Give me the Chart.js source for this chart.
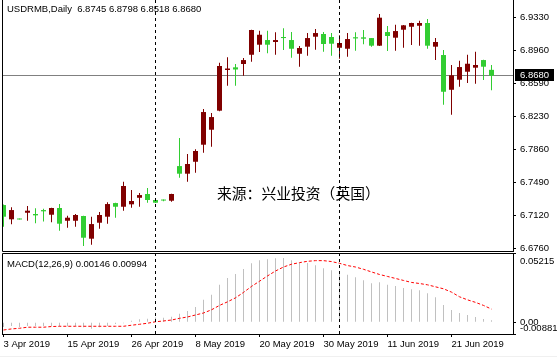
<!DOCTYPE html>
<html><head><meta charset="utf-8">
<script src="https://cdn.jsdelivr.net/npm/chart.js@4.4.1/dist/chart.umd.min.js"></script>
<style>
html,body{margin:0;padding:0;background:#fff;}
#wrap{position:relative;width:557px;height:357px;overflow:hidden;background:#fff;}
canvas{position:absolute;left:0;}
#cMain{top:0;}
#cMacd{top:252px;}
.txt{position:absolute;font-family:"Liberation Sans",Arial,sans-serif;font-size:9.5px;line-height:11px;color:#000;white-space:pre;}
#title{left:7px;top:3px;}
#macdLbl{left:7px;top:258px;}
#wm{position:absolute;left:217px;top:184px;font-family:"Noto Sans CJK SC",sans-serif;font-size:14.8px;line-height:18px;color:#000;white-space:pre;}
#foot{position:absolute;left:0;top:356px;width:557px;height:1px;background:#f0f0f0;}
</style></head><body>
<div id="wrap">
<canvas id="cMain" width="557" height="253"></canvas>
<canvas id="cMacd" width="557" height="105"></canvas>
<div class="txt" id="title"></div>
<div class="txt" id="macdLbl"></div>
<div id="wm"></div>
<div id="foot"></div>
</div>
<script>
// ---------------- data ----------------
const symbolName = 'USDRMB,Daily';
const macdName = 'MACD(12,26,9)';
const watermarkText = '来源：兴业投资（英国）';

const dates = ['3 Apr 2019','4 Apr 2019','5 Apr 2019','8 Apr 2019','9 Apr 2019','10 Apr 2019','11 Apr 2019','12 Apr 2019',
'15 Apr 2019','16 Apr 2019','17 Apr 2019','18 Apr 2019','22 Apr 2019','23 Apr 2019','24 Apr 2019','25 Apr 2019',
'26 Apr 2019','29 Apr 2019','30 Apr 2019','1 May 2019','2 May 2019','3 May 2019','6 May 2019','7 May 2019',
'8 May 2019','9 May 2019','10 May 2019','13 May 2019','14 May 2019','15 May 2019','16 May 2019','17 May 2019',
'20 May 2019','21 May 2019','22 May 2019','23 May 2019','24 May 2019','27 May 2019','28 May 2019','29 May 2019',
'30 May 2019','31 May 2019','3 Jun 2019','4 Jun 2019','5 Jun 2019','6 Jun 2019','7 Jun 2019','10 Jun 2019',
'11 Jun 2019','12 Jun 2019','13 Jun 2019','14 Jun 2019','17 Jun 2019','18 Jun 2019','19 Jun 2019','20 Jun 2019',
'21 Jun 2019','24 Jun 2019','25 Jun 2019','26 Jun 2019','27 Jun 2019','28 Jun 2019'];

const openPx = [6.7239,6.7080,6.7082,6.7153,6.7139,6.7183,6.7131,6.7206,6.7064,6.7064,
6.7117,6.6864,6.7042,6.7109,6.7261,6.7220,6.7247,6.7320,6.7362,6.7295,
6.7293,6.7287,6.7673,6.7588,6.7721,6.7911,6.8078,6.8290,6.8743,6.8773,
6.8810,6.8913,6.9025,6.9077,6.9055,6.9111,6.9077,6.8924,6.9003,6.9114,
6.9144,6.9111,6.8991,6.8980,6.9108,6.9107,6.9099,6.9014,6.9166,6.9103,
6.9192,6.9225,6.9236,6.9267,6.9003,6.8910,6.8523,6.8635,6.8724,6.8769,
6.8854,6.8745];
const highPx = [6.7245,6.7213,6.7082,6.7228,6.7202,6.7198,6.7208,6.7250,6.7120,6.7139,
6.7120,6.7109,6.7161,6.7269,6.7264,6.7499,6.7406,6.7373,6.7428,6.7298,
6.7300,6.7365,6.7985,6.7807,6.7860,6.8309,6.8264,6.8824,6.8884,6.8810,
6.8877,6.9192,6.9181,6.9181,6.9163,6.9207,6.9166,6.9010,6.9155,6.9200,
6.9166,6.9155,6.9130,6.9155,6.9163,6.9189,6.9101,6.9367,6.9233,6.9248,
6.9244,6.9270,6.9292,6.9311,6.9099,6.8966,6.8799,6.8847,6.8913,6.8947,
6.8857,6.8798];
const lowPx = [6.6997,6.7024,6.7078,6.7064,6.7035,6.7057,6.7046,6.6953,6.6986,6.6997,
6.6782,6.6797,6.6975,6.7031,6.7098,6.7176,6.7209,6.7220,6.7265,6.7262,
6.7282,6.7276,6.7543,6.7499,6.7599,6.7822,6.7889,6.8285,6.8568,6.8568,
6.8679,6.8835,6.8943,6.8929,6.8913,6.8966,6.8880,6.8780,6.8902,6.8969,
6.8947,6.8902,6.8869,6.8891,6.8958,6.9029,6.9003,6.9010,6.8955,6.8958,
6.8991,6.9021,6.9014,6.8980,6.8854,6.8356,6.8245,6.8557,6.8598,6.8590,
6.8632,6.8518];
const closePx = [6.7109,6.7183,6.7078,6.7176,6.7124,6.7169,6.7206,6.7031,6.7098,6.7128,
6.6875,6.7027,6.7128,6.7250,6.7220,6.7451,6.7284,6.7350,6.7295,6.7265,
6.7289,6.7362,6.7588,6.7696,6.7841,6.8275,6.8219,6.8788,6.8760,6.8749,
6.8854,6.9189,6.9136,6.9025,6.9077,6.9099,6.8980,6.8988,6.9099,6.9155,
6.9033,6.9036,6.9044,6.9088,6.9095,6.9092,6.9014,6.9326,6.9122,6.9177,
6.9241,6.9267,6.9267,6.9014,6.9055,6.8501,6.8684,6.8776,6.8813,6.8799,
6.8780,6.8680];

const macdMain = [-0.0035,-0.0028,-0.0035,-0.0028,-0.0028,-0.0028,-0.0028,-0.0030,-0.0030,-0.0030,
-0.0037,-0.0048,-0.0037,-0.0028,-0.0013,-0.0007,0.0012,0.0022,0.0027,0.0037,
0.0034,0.0042,0.0064,0.0085,0.0115,0.0169,0.0207,0.0282,0.0334,0.0364,
0.0401,0.0444,0.0467,0.0474,0.0482,0.0484,0.0467,0.0446,0.0446,0.0429,
0.0407,0.0392,0.0369,0.0357,0.0339,0.0317,0.0294,0.0302,0.0282,0.0274,
0.0259,0.0249,0.0242,0.0219,0.0189,0.0130,0.0092,0.0070,0.0055,0.0040,
0.0025,0.00146];
const macdSignal = [-0.0058,-0.0050,-0.0045,-0.0037,-0.0037,-0.0037,-0.0032,-0.0030,-0.0030,-0.0030,
-0.0030,-0.0030,-0.0030,-0.0030,-0.0030,-0.0030,-0.0022,-0.0015,-0.0007,0.0004,
0.0010,0.0017,0.0030,0.0040,0.0055,0.0070,0.0094,0.0127,0.0154,0.0184,
0.0225,0.0270,0.0309,0.0349,0.0386,0.0416,0.0437,0.0449,0.0459,0.0464,
0.0464,0.0457,0.0444,0.0427,0.0416,0.0399,0.0379,0.0360,0.0345,0.0330,
0.0315,0.0300,0.0292,0.0282,0.0267,0.0252,0.0227,0.0192,0.0169,0.0150,
0.0127,0.00994];

const priceTicks = [6.6760,6.7120,6.7490,6.7860,6.8230,6.8590,6.8960,6.9330];
const macdTicks = [-0.00881,0.00,0.05215];
const macdTickLabels = ['-0.00881','0.00','0.05215'];
const dateTickIndex = [0,8,16,24,32,40,48,56];
const separatorIndex = [19,42];   // first trading day of May and June
const lastPrice = 6.8680;

// ---------------- styling ----------------
const FONT = '"Liberation Sans", Arial, sans-serif';
const UP = '#800000', DOWN = '#32cd32';
const X_MIN = -0.1875, X_MAX = 63.6875;
const Y_MIN = 6.6727, Y_MAX = 6.9523;

const idx = dates.map((d,i)=>i);
const colorAt = i => closePx[i] >= openPx[i] ? UP : DOWN;
const last = dates.length - 1;

document.getElementById('title').textContent =
  symbolName + '  ' + openPx[last].toFixed(4) + ' ' + highPx[last].toFixed(4) + ' ' + lowPx[last].toFixed(4) + ' ' + closePx[last].toFixed(4);
document.getElementById('macdLbl').textContent =
  macdName + ' ' + macdMain[last].toFixed(5) + ' ' + macdSignal[last].toFixed(5);
document.getElementById('wm').textContent = watermarkText;

function drawSeparators(chart){
  const {ctx, chartArea:a, scales:{x}} = chart;
  ctx.save();
  ctx.strokeStyle = '#000'; ctx.lineWidth = 1; ctx.setLineDash([3,3]);
  separatorIndex.forEach(i=>{
    const px = Math.floor(x.getPixelForValue(i)) + 0.5;
    ctx.beginPath(); ctx.moveTo(px, a.top); ctx.lineTo(px, a.bottom); ctx.stroke();
  });
  ctx.restore();
}

const mainDeco = {
  id:'mainDeco',
  beforeDatasetsDraw(chart){
    const {ctx, chartArea:a, scales:{y}} = chart;
    const py = Math.floor(y.getPixelForValue(lastPrice)) + 0.5;
    ctx.save(); ctx.strokeStyle = '#808080'; ctx.lineWidth = 1;
    ctx.beginPath(); ctx.moveTo(a.left, py); ctx.lineTo(a.right, py); ctx.stroke();
    ctx.restore();
  },
  afterDatasetsDraw(chart){
    drawSeparators(chart);
    const {ctx, chartArea:a} = chart;
    ctx.save(); ctx.strokeStyle = '#000'; ctx.lineWidth = 1;
    ctx.beginPath();
    ctx.moveTo(a.left + 0.5, 0); ctx.lineTo(a.left + 0.5, a.bottom + 0.5);
    ctx.lineTo(a.right + 0.5, a.bottom + 0.5);
    ctx.stroke(); ctx.restore();
  },
  afterDraw(chart){
    const {ctx, chartArea:a, scales:{y}} = chart;
    const py = Math.floor(y.getPixelForValue(lastPrice));
    ctx.save();
    ctx.fillStyle = '#000';
    ctx.fillRect(a.right + 2, py - 6, 39, 12);
    ctx.fillStyle = '#fff';
    ctx.font = '9.5px ' + FONT;
    ctx.textBaseline = 'middle';
    ctx.fillText(lastPrice.toFixed(4), a.right + 7, py + 0.5);
    ctx.restore();
  }
};

const macdDeco = {
  id:'macdDeco',
  afterDatasetsDraw(chart){
    drawSeparators(chart);
    const {ctx, chartArea:a} = chart;
    ctx.save(); ctx.strokeStyle = '#000'; ctx.lineWidth = 1;
    ctx.beginPath();
    ctx.moveTo(a.left + 0.5, a.bottom + 0.5); ctx.lineTo(a.left + 0.5, a.top + 0.5);
    ctx.lineTo(a.right + 0.5, a.top + 0.5);
    ctx.stroke(); ctx.restore();
  }
};

Chart.defaults.font.family = FONT;

new Chart(document.getElementById('cMain'), {
  type:'bar',
  data:{datasets:[
    {label:'body', data: idx.map(i=>({x:i, y:[openPx[i], closePx[i]]})),
     backgroundColor: c=>colorAt(c.dataIndex), barThickness:5, minBarLength:1,
     grouped:false, inflateAmount:0, borderWidth:0},
    {label:'wick', data: idx.map(i=>({x:i, y:[lowPx[i], highPx[i]]})),
     backgroundColor: c=>colorAt(c.dataIndex), barThickness:1, minBarLength:1,
     grouped:false, inflateAmount:0, borderWidth:0}
  ]},
  options:{
    responsive:false, animation:false, devicePixelRatio:1,
    layout:{padding:{left:2,right:0,top:0,bottom:2}},
    plugins:{legend:{display:false}, tooltip:{enabled:false}},
    scales:{
      x:{type:'linear', min:X_MIN, max:X_MAX, offset:false, display:false},
      y:{type:'linear', position:'right', min:Y_MIN, max:Y_MAX,
         afterBuildTicks: s=>{ s.ticks = priceTicks.map(v=>({value:v})); },
         afterFit: s=>{ s.width = 44; s.paddingTop = 0; s.paddingBottom = 0; },
         grid:{drawOnChartArea:false, drawTicks:true, tickLength:3, tickColor:'#000'},
         border:{display:true, color:'#000'},
         ticks:{color:'#000', font:{family:FONT, size:9.5}, padding:4, autoSkip:false,
                callback: v => Number(v).toFixed(4)}
      }
    }
  },
  plugins:[mainDeco]
});

new Chart(document.getElementById('cMacd'), {
  type:'bar',
  data:{datasets:[
    {type:'line', label:'Signal', data: idx.map(i=>({x:i, y:macdSignal[i]})),
     borderColor:'#ff0000', borderWidth:1, borderDash:[3,2], pointRadius:0, fill:false, tension:0},
    {type:'bar', label:'MACD', data: idx.map(i=>({x:i, y:macdMain[i]})),
     backgroundColor:'#c0c0c0', barThickness:1, grouped:false, inflateAmount:0, borderWidth:0}
  ]},
  options:{
    responsive:false, animation:false, devicePixelRatio:1,
    layout:{padding:{left:2,right:0,top:1,bottom:0}},
    plugins:{legend:{display:false}, tooltip:{enabled:false}},
    scales:{
      x:{type:'linear', min:X_MIN, max:X_MAX, offset:false, position:'bottom',
         afterBuildTicks: s=>{ s.ticks = dateTickIndex.map(v=>({value:v})); },
         afterFit: s=>{ s.height = 23; s.paddingLeft = 0; s.paddingRight = 0; },
         grid:{offset:false, drawOnChartArea:false, drawTicks:true, tickLength:3, tickColor:'#000'},
         border:{display:true, color:'#000'},
         ticks:{autoSkip:false, maxRotation:0, minRotation:0, align:'start', padding:2,
                color:'#000', font:{family:FONT, size:9.5}, callback: v => dates[v]}
      },
      y:{type:'linear', position:'right', min:macdTicks[0], max:macdTicks[2],
         afterBuildTicks: s=>{ s.ticks = macdTicks.map(v=>({value:v})); },
         afterFit: s=>{ s.width = 44; s.paddingTop = 0; s.paddingBottom = 0; },
         grid:{drawOnChartArea:false, drawTicks:true, tickLength:3, tickColor:'#000'},
         border:{display:true, color:'#000'},
         ticks:{color:'#000', padding:4, autoSkip:false,
                font: c => ({family:FONT, size:9.5, lineHeight: c.index===0 ? '10.6px' : (c.index===2 ? '16px' : 1.2)}),
                callback: (v,i) => i===0 ? [macdTickLabels[0], ''] : (i===2 ? ['', macdTickLabels[2]] : macdTickLabels[i])}
      }
    }
  },
  plugins:[macdDeco]
});
</script>
</body></html>
